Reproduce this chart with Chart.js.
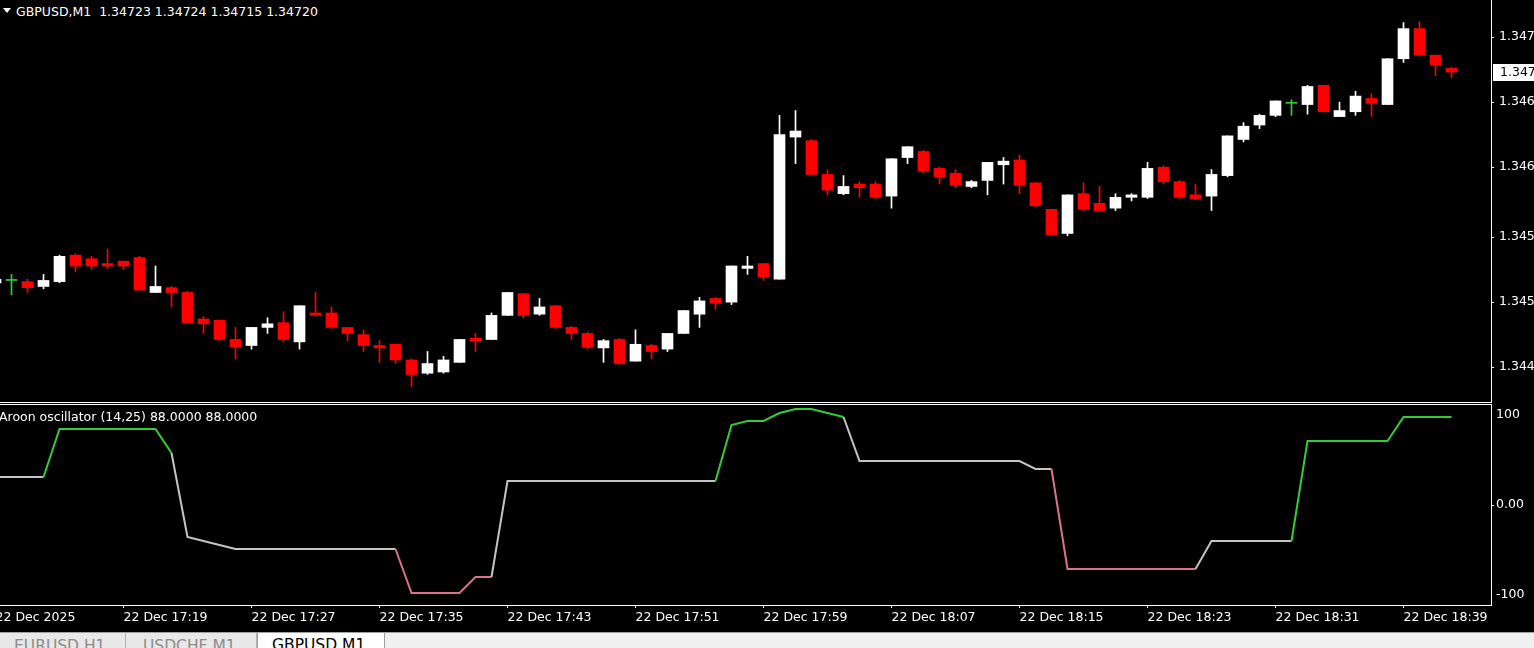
<!doctype html>
<html lang="en">
<head>
<meta charset="utf-8">
<title>GBPUSD,M1</title>
<style>
  * { margin: 0; padding: 0; }
  body {
    width: 1534px; height: 648px; overflow: hidden;
    background: #000; position: relative;
    font-family: "DejaVu Sans", sans-serif;
  }
  canvas { position: absolute; left: 0; }
  #priceChart { top: 0; }
  #aroonChart { top: 403px; }
  .hline { position: absolute; left: 0; width: 1492px; height: 1px; background: #fff; }
  .header { position: absolute; left: 16px; top: 6px; line-height: 12px; font-size: 12.5px; color: #fff; white-space: pre; }
  .tri { position: absolute; left: 3px; top: 8px; width: 0; height: 0;
         border-left: 4px solid transparent; border-right: 4px solid transparent; border-top: 5px solid #fff; }
  .indLabel { position: absolute; left: -1px; top: 411px; line-height: 12px; font-size: 12.5px; color: #fff; white-space: pre; }
  .tabs { position: absolute; left: 0; top: 632px; width: 1534px; height: 16px; background: #f0f0f0; border-top: 1px solid #a0a0a0; overflow: hidden; }
  .tab { position: absolute; top: 0; height: 16px; font-size: 15.5px; line-height: 15px; padding-top: 6px; box-sizing: border-box; }
  .tab.off { background: #e8e8e8; color: #8c8c8c; border-right: 1px solid #b4b4b4; }
  .tab.on { background: #fff; color: #000; border-right: 1px solid #a0a0a0; border-left: 1px solid #a0a0a0; top: -1px; height: 17px; }
</style>
</head>
<body>
<div class="tri"></div>
<div class="header" id="header"></div>
<canvas id="priceChart" width="1534" height="402"></canvas>
<div class="hline" style="top:402px"></div>
<div class="hline" style="top:404px"></div>
<canvas id="aroonChart" width="1534" height="229"></canvas>
<div class="indLabel" id="indLabel"></div>
<div class="tabs">
  <div class="tab off" style="left:0;width:126px;padding-left:14px">EURUSD,H1</div>
  <div class="tab off" style="left:126px;width:131px;padding-left:17px">USDCHF,M1</div>
  <div class="tab on" style="left:257px;width:128px;padding-left:14px">GBPUSD,M1</div>
</div>
<script src="https://cdn.jsdelivr.net/npm/chart.js"></script>
<script>
// candle index 0 = 22 Dec 17:12, one bar per minute (-1 is the half hidden bar at the left edge)
const barIdx = [];
for (let i = -1; i <= 90; i++) barIdx.push(i);

const opens = [
  1.34545, 1.34547, 1.34546, 1.34542, 1.34546, 1.34568, 1.34565, 1.34561, 1.34563, 1.34566,
  1.34537, 1.34541, 1.34537, 1.34515, 1.34514, 1.34498, 1.34493, 1.34508, 1.34512, 1.34496,
  1.34520, 1.34520, 1.34508, 1.34502, 1.34493, 1.34494, 1.34481, 1.34470, 1.34471, 1.34479,
  1.34499, 1.34498, 1.34518, 1.34536, 1.34519, 1.34526, 1.34508, 1.34503, 1.34491, 1.34498,
  1.34480, 1.34493, 1.34490, 1.34503, 1.34519, 1.34532, 1.34529, 1.34557, 1.34561, 1.34548,
  1.34666, 1.34663, 1.34635, 1.34619, 1.34627, 1.34627, 1.34617, 1.34649, 1.34654, 1.34640,
  1.34636, 1.34625, 1.34630, 1.34643, 1.34647, 1.34628, 1.34606, 1.34586, 1.34619, 1.34611,
  1.34607, 1.34616, 1.34616, 1.34641, 1.34629, 1.34618, 1.34617, 1.34634, 1.34664, 1.34676,
  1.34684, 1.34694, 1.34693, 1.34709, 1.34683, 1.34687, 1.34698, 1.34693, 1.34731, 1.34756,
  1.34734, 1.34723
];
const highs = [
  1.34550, 1.34552, 1.34548, 1.34552, 1.34568, 1.34569, 1.34567, 1.34573, 1.34563, 1.34567,
  1.34559, 1.34542, 1.34538, 1.34517, 1.34514, 1.34508, 1.34508, 1.34516, 1.34521, 1.34526,
  1.34537, 1.34525, 1.34508, 1.34506, 1.34497, 1.34494, 1.34482, 1.34488, 1.34484, 1.34498,
  1.34503, 1.34520, 1.34537, 1.34536, 1.34532, 1.34526, 1.34509, 1.34504, 1.34498, 1.34499,
  1.34506, 1.34494, 1.34503, 1.34522, 1.34533, 1.34533, 1.34559, 1.34567, 1.34561, 1.34684,
  1.34688, 1.34664, 1.34639, 1.34634, 1.34629, 1.34629, 1.34648, 1.34658, 1.34655, 1.34641,
  1.34639, 1.34630, 1.34645, 1.34649, 1.34651, 1.34628, 1.34606, 1.34618, 1.34628, 1.34625,
  1.34619, 1.34619, 1.34645, 1.34642, 1.34630, 1.34627, 1.34639, 1.34667, 1.34678, 1.34685,
  1.34696, 1.34697, 1.34709, 1.34709, 1.34695, 1.34704, 1.34702, 1.34731, 1.34761, 1.34762,
  1.34734, 1.34724
];
const lows = [
  1.34543, 1.34535, 1.34537, 1.34540, 1.34545, 1.34554, 1.34556, 1.34557, 1.34556, 1.34539,
  1.34537, 1.34525, 1.34512, 1.34503, 1.34497, 1.34482, 1.34490, 1.34503, 1.34496, 1.34490,
  1.34518, 1.34507, 1.34497, 1.34488, 1.34479, 1.34478, 1.34459, 1.34469, 1.34470, 1.34479,
  1.34488, 1.34498, 1.34518, 1.34516, 1.34518, 1.34507, 1.34498, 1.34490, 1.34479, 1.34477,
  1.34480, 1.34482, 1.34488, 1.34503, 1.34508, 1.34523, 1.34527, 1.34552, 1.34547, 1.34548,
  1.34644, 1.34635, 1.34618, 1.34618, 1.34616, 1.34615, 1.34607, 1.34644, 1.34636, 1.34627,
  1.34624, 1.34624, 1.34618, 1.34627, 1.34619, 1.34608, 1.34585, 1.34584, 1.34605, 1.34605,
  1.34605, 1.34613, 1.34615, 1.34627, 1.34615, 1.34614, 1.34605, 1.34633, 1.34662, 1.34673,
  1.34683, 1.34684, 1.34685, 1.34687, 1.34683, 1.34684, 1.34683, 1.34693, 1.34728, 1.34734,
  1.34717, 1.34715
];
const closes = [
  1.34548, 1.34547, 1.34541, 1.34547, 1.34567, 1.34559, 1.34559, 1.34559, 1.34559, 1.34539,
  1.34542, 1.34537, 1.34512, 1.34511, 1.34498, 1.34492, 1.34508, 1.34511, 1.34498, 1.34526,
  1.34518, 1.34508, 1.34503, 1.34493, 1.34491, 1.34481, 1.34469, 1.34478, 1.34481, 1.34498,
  1.34497, 1.34518, 1.34537, 1.34518, 1.34525, 1.34508, 1.34503, 1.34492, 1.34497, 1.34478,
  1.34494, 1.34488, 1.34503, 1.34522, 1.34530, 1.34528, 1.34559, 1.34559, 1.34550, 1.34668,
  1.34671, 1.34635, 1.34622, 1.34625, 1.34624, 1.34616, 1.34648, 1.34658, 1.34638, 1.34633,
  1.34626, 1.34629, 1.34645, 1.34646, 1.34626, 1.34609, 1.34585, 1.34618, 1.34606, 1.34605,
  1.34616, 1.34618, 1.34640, 1.34629, 1.34616, 1.34615, 1.34635, 1.34667, 1.34675, 1.34684,
  1.34696, 1.34694, 1.34708, 1.34687, 1.34688, 1.34700, 1.34694, 1.34731, 1.34756, 1.34734,
  1.34726, 1.34720
];

// Aroon oscillator (14,25), one value per bar
const aroon = [
  28, 28, 28, 28, 76, 76, 76, 76, 76, 76,
  76, 52, -32, -36, -40, -44, -44, -44, -44, -44,
  -44, -44, -44, -44, -44, -44, -88, -88, -88, -88,
  -72, -72, 24, 24, 24, 24, 24, 24, 24, 24,
  24, 24, 24, 24, 24, 24, 80, 84, 84, 92,
  96, 96, 92, 88, 44, 44, 44, 44, 44, 44,
  44, 44, 44, 44, 44, 36, 36, -64, -64, -64,
  -64, -64, -64, -64, -64, -64, -36, -36, -36, -36,
  -36, -36, 64, 64, 64, 64, 64, 64, 88, 88,
  88, 88
];

const timeTickIdx = [-1, 7, 15, 23, 31, 39, 47, 55, 63, 71, 79, 87];
const timeTickLabels = ['22 Dec 2025', '22 Dec 17:19', '22 Dec 17:27', '22 Dec 17:35', '22 Dec 17:43',
  '22 Dec 17:51', '22 Dec 17:59', '22 Dec 18:07', '22 Dec 18:15', '22 Dec 18:23', '22 Dec 18:31', '22 Dec 18:39'];

const priceTicks = [1.34749, 1.34695, 1.34641, 1.34583, 1.34529, 1.34475];
const priceTickLabels = ['1.347', '1.346', '1.346', '1.345', '1.345', '1.344'];

const aroonTicks = [100, 0, -100];
const aroonTickLabels = [['', '100'], '0.00', ['-100', '']];

const symbol = 'GBPUSD,M1';

// view window (bar index at left / right edge of the plot)
const X_MIN = -0.71875, X_MAX = 92.46875;
const Y_MIN = 1.344461, Y_MAX = 1.3477976;

const BULL = '#ffffff', BEAR = '#ff0000', DOJI = '#32cd32';
const AR_UP = '#32cd32', AR_MID = '#c4c4c4', AR_DN = '#db7093';
const FONT = { family: 'DejaVu Sans', size: 12.5 };

Chart.defaults.font.family = 'DejaVu Sans';
Chart.defaults.color = '#fff';

const n = barIdx.length;
const last = n - 1;
document.getElementById('header').textContent =
  symbol + '  ' + [opens[last], highs[last], lows[last], closes[last]].map(v => v.toFixed(5)).join(' ');
document.getElementById('indLabel').textContent =
  'Aroon oscillator (14,25) ' + aroon[last].toFixed(4) + ' ' + aroon[last].toFixed(4);

const candleColor = barIdx.map((_, k) =>
  closes[k] > opens[k] ? BULL : (closes[k] < opens[k] ? BEAR : DOJI));

function noPad(scale) {
  scale.paddingTop = 0; scale.paddingBottom = 0;
  scale.paddingLeft = 0; scale.paddingRight = 0;
}

// white box with the last price on the right scale
const lastPricePlugin = {
  id: 'lastPrice',
  afterDraw(chart) {
    const ctx = chart.ctx, y = chart.scales.y.getPixelForValue(closes[last]);
    const x0 = chart.chartArea.right + 2;
    ctx.save();
    ctx.fillStyle = '#fff';
    ctx.fillRect(x0, Math.round(y) - 8, chart.width - x0, 17);
    ctx.fillStyle = '#000';
    ctx.font = '12.5px "DejaVu Sans"';
    ctx.textBaseline = 'middle';
    ctx.fillText((Math.floor(closes[last] * 1000) / 1000).toFixed(3), chart.chartArea.right + 9, Math.round(y) + 0.5);
    ctx.restore();
  }
};

new Chart(document.getElementById('priceChart'), {
  type: 'bar',
  data: {
    datasets: [
      {
        label: 'body',
        data: barIdx.map((x, k) => ({ x, y: [opens[k], closes[k]] })),
        backgroundColor: candleColor,
        barThickness: 11,
        minBarLength: 1,
        grouped: false,
        order: 0
      },
      {
        label: 'wick',
        data: barIdx.map((x, k) => ({ x, y: [lows[k], highs[k]] })),
        backgroundColor: candleColor,
        barThickness: 1,
        grouped: false,
        order: 1
      }
    ]
  },
  options: {
    responsive: false,
    animation: false,
    layout: { padding: 0 },
    plugins: { legend: { display: false }, tooltip: { enabled: false } },
    scales: {
      x: { type: 'linear', min: X_MIN, max: X_MAX, offset: false, display: false },
      y: {
        position: 'right',
        min: Y_MIN, max: Y_MAX,
        afterBuildTicks: s => { s.ticks = priceTicks.map(v => ({ value: v })); },
        afterFit: s => { s.width = 43; noPad(s); },
        ticks: {
          font: FONT, color: '#fff', padding: 5,
          callback: (v, i) => priceTickLabels[i]
        },
        grid: { drawOnChartArea: false, tickLength: 3, tickColor: '#fff' },
        border: { color: '#fff', width: 1 }
      }
    }
  },
  plugins: [lastPricePlugin]
});

const aroonColor = v => v >= 50 ? AR_UP : (v <= -50 ? AR_DN : AR_MID);

new Chart(document.getElementById('aroonChart'), {
  type: 'line',
  data: {
    datasets: [{
      data: barIdx.map((x, k) => ({ x, y: aroon[k] })),
      borderWidth: 2,
      pointRadius: 0,
      tension: 0,
      borderColor: AR_MID,
      segment: { borderColor: c => aroonColor(c.p1.parsed.y) }
    }]
  },
  options: {
    responsive: false,
    animation: false,
    layout: { padding: { top: 2 } },
    plugins: { legend: { display: false }, tooltip: { enabled: false } },
    scales: {
      x: {
        type: 'linear', min: X_MIN, max: X_MAX, offset: false,
        afterBuildTicks: s => { s.ticks = timeTickIdx.map(v => ({ value: v })); },
        afterFit: s => { s.height = 27; noPad(s); },
        ticks: {
          font: FONT, color: '#fff', padding: 2, align: 'start',
          maxRotation: 0, autoSkip: false,
          callback: (v, i) => timeTickLabels[i]
        },
        grid: { drawOnChartArea: false, tickLength: 3, tickColor: '#fff' },
        border: { color: '#fff', width: 1 }
      },
      y: {
        position: 'right',
        min: -100, max: 100,
        afterBuildTicks: s => { s.ticks = aroonTicks.map(v => ({ value: v })); },
        afterFit: s => { s.width = 43; noPad(s); },
        ticks: {
          font: { family: 'DejaVu Sans', size: 12.5, lineHeight: 1.6 }, color: '#fff', padding: 2,
          callback: (v, i) => aroonTickLabels[i]
        },
        grid: { drawOnChartArea: false, tickLength: 3, tickColor: c => c.tick && c.tick.value === 0 ? '#fff' : 'rgba(0,0,0,0)' },
        border: { color: '#fff', width: 1 }
      }
    }
  }
});
</script>
</body>
</html>
